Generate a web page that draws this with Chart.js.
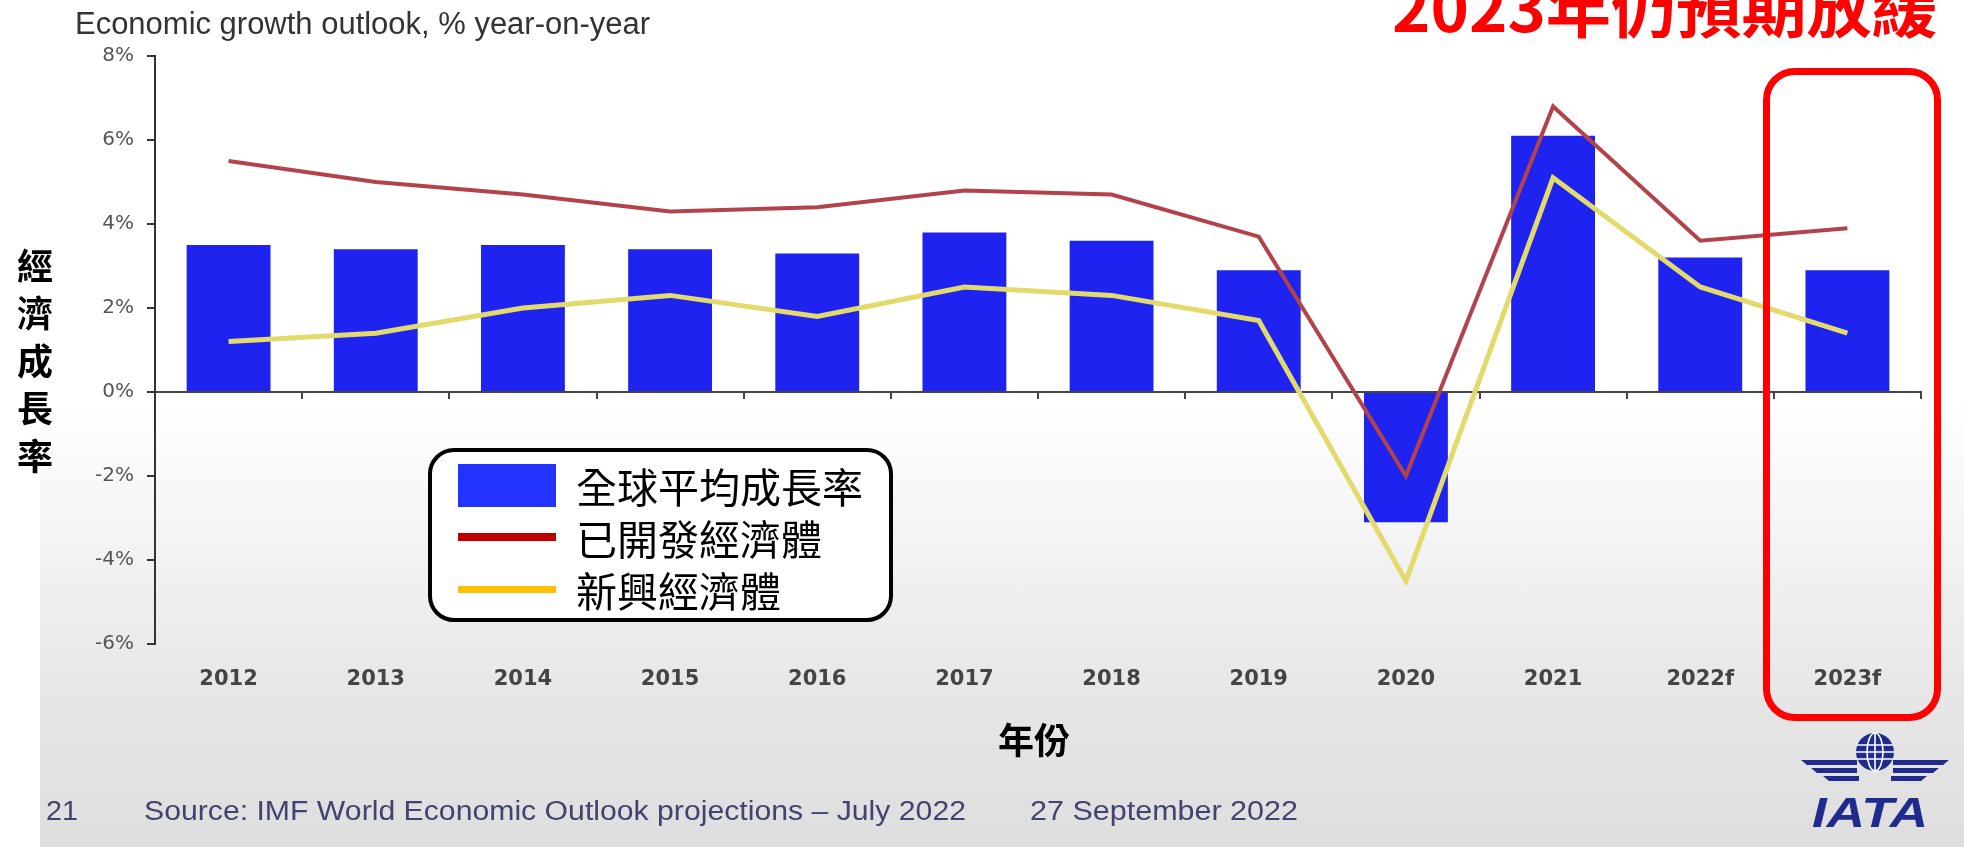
<!DOCTYPE html>
<html>
<head>
<meta charset="utf-8">
<script src="https://cdn.jsdelivr.net/npm/chart.js@4/dist/chart.umd.min.js"></script>
<style>
  html, body { margin: 0; padding: 0; }
  body { width: 1964px; height: 847px; overflow: hidden; position: relative; background: #fff; font-family: 'Liberation Sans', Arial, sans-serif; }
  #bg { position: absolute; left: 40px; top: 0; right: 0; bottom: 0;
        background: linear-gradient(to bottom, #ffffff 0px, #ffffff 400px, #f2f2f2 560px, #e6e6e6 700px, #dedede 847px); }
  #chart { position: absolute; left: 0; top: 0; }
  .txt { position: absolute; white-space: nowrap; line-height: 1; transform-origin: left top; }
  #title { left: 75px; top: 8px; font-size: 31px; color: #333; }
  #note { left: 1392px; top: -42px; font: 700 64px 'Noto Sans CJK TC'; color: #ff0000; }
  #pageNo, #source, #date { top: 798px; font-size: 27px; color: #43436f; }
  #pageNo { left: 46px; }
  #source { left: 144px; }
  #date { left: 1030px; }
  #iata { left: 1812px; top: 789px; font: italic 700 42px 'Liberation Sans'; color: #1f2b8e; }
  #ytitle { position: absolute; left: 17px; top: 241px; width: 36px; font: 700 36px 'Noto Sans CJK TC'; line-height: 47.4px; text-align: center; color: #000; }
  #xtitle { position: absolute; left: 1034px; top: 720px; transform: translateX(-50%); font: 700 36px 'Noto Sans CJK TC'; line-height: 1; color: #000; white-space: nowrap; }
  #legend { position: absolute; left: 428px; top: 448px; width: 465px; height: 174px; box-sizing: border-box;
            border: 4px solid #000; border-radius: 26px; background: #fff; padding-top: 7px; }
  .lg-row { display: flex; align-items: center; height: 52px; padding-left: 26px; }
  .lg-swatch { display: inline-block; width: 98px; margin-right: 20px; }
  .lg-text { font: 400 41px 'Noto Sans CJK TC'; line-height: 52px; color: #000; white-space: nowrap; }
  #highlight { position: absolute; left: 1763px; top: 68px; width: 178px; height: 653px; box-sizing: border-box;
               border: 7px solid #ff0000; border-radius: 32px; }
  #logo { position: absolute; left: 1795px; top: 725px; }
</style>
</head>
<body>
<div id="bg"></div>
<canvas id="chart" width="1964" height="847"></canvas>
<div class="txt" id="title">Economic growth outlook, % year-on-year</div>
<div id="ytitle"></div>
<div id="xtitle">年份</div>
<div id="legend"></div>
<div id="highlight"></div>
<div class="txt" id="note">2023年仍預期放緩</div>
<div class="txt" id="pageNo">21</div>
<div class="txt" id="source">Source: IMF World Economic Outlook projections – July 2022</div>
<div class="txt" id="date">27 September 2022</div>
<svg id="logo" width="160" height="65" viewBox="0 0 160 65">
  <g fill="#1f2b8e">
    <polygon points="6,35 62,35 62,40 12,40"/>
    <polygon points="16,43 62,43 62,48 22,48"/>
    <polygon points="28,51 64,51 64,56 34,56"/>
    <polygon points="154,35 98,35 98,40 148,40"/>
    <polygon points="144,43 98,43 98,48 138,48"/>
    <polygon points="132,51 96,51 96,56 126,56"/>
  </g>
  <circle cx="80" cy="27" r="19" fill="#1f2b8e"/>
  <g fill="none" stroke="#ffffff" stroke-width="1.6">
    <ellipse cx="80" cy="27" rx="8" ry="19"/>
    <line x1="80" y1="8" x2="80" y2="46"/>
    <line x1="62" y1="20" x2="98" y2="20"/>
    <line x1="61" y1="27" x2="99" y2="27"/>
    <line x1="62" y1="34" x2="98" y2="34"/>
  </g>
</svg>
<div class="txt" id="iata">IATA</div>

<script>
// 類別與數值
const categories = ['2012', '2013', '2014', '2015', '2016', '2017', '2018', '2019', '2020', '2021', '2022f', '2023f'];
const worldGrowth = [3.5, 3.4, 3.5, 3.4, 3.3, 3.8, 3.6, 2.9, -3.1, 6.1, 3.2, 2.9];
const developedGrowth = [5.5, 5.0, 4.7, 4.3, 4.4, 4.8, 4.7, 3.7, -2.0, 6.8, 3.6, 3.9];
const emergingGrowth = [1.2, 1.4, 2.0, 2.3, 1.8, 2.5, 2.3, 1.7, -4.5, 5.1, 2.5, 1.4];
const seriesNames = ['全球平均成長率', '已開發經濟體', '新興經濟體'];
const yTicks = [-6, -4, -2, 0, 2, 4, 6, 8];

const chart = new Chart(document.getElementById('chart').getContext('2d'), {
  type: 'bar',
  data: {
    labels: categories,
    datasets: [
      { type: 'bar', label: seriesNames[0], data: worldGrowth, backgroundColor: '#1e23ef',
        barPercentage: 0.57, categoryPercentage: 1, order: 2 },
      { type: 'line', label: seriesNames[1], data: developedGrowth, borderColor: '#b3434b',
        borderWidth: 4, pointRadius: 0, tension: 0, order: 1 },
      { type: 'line', label: seriesNames[2], data: emergingGrowth, borderColor: '#e2db6c',
        borderWidth: 5, pointRadius: 0, tension: 0, order: 1 }
    ]
  },
  options: {
    responsive: false,
    animation: false,
    devicePixelRatio: 1,
    layout: { padding: { left: 0, top: 56, right: 43, bottom: 143 } },
    plugins: { legend: { display: false }, tooltip: { enabled: false } },
    scales: {
      x: {
        position: 'bottom',
        offset: true,
        grid: { display: false, drawTicks: false },
        border: { display: false },
        ticks: { color: '#444', font: { family: 'DejaVu Sans', size: 21, weight: 'bold' },
                 padding: 23, maxRotation: 0, autoSkip: false },
        afterFit: s => { s.height = 60; }
      },
      // 0% 基準線與分隔刻度
      zero: {
        axis: 'x',
        type: 'category',
        position: { y: 0 },
        offset: true,
        grid: { offset: true, drawOnChartArea: false, drawTicks: true, tickLength: 6, color: '#444', lineWidth: 2 },
        border: { color: '#444', width: 2 },
        ticks: { display: false }
      },
      y: {
        min: yTicks[0],
        max: yTicks[yTicks.length - 1],
        afterBuildTicks: s => { s.ticks = yTicks.map(v => ({ value: v })); },
        grid: { drawOnChartArea: false, drawTicks: true, tickLength: 8, color: '#333', lineWidth: 2 },
        border: { color: '#333', width: 2 },
        ticks: { color: '#555', font: { family: 'DejaVu Sans', size: 20 }, padding: 13,
                 callback: v => v + '%' },
        afterFit: s => { s.width = 155; }
      }
    }
  }
});

// 圖例
const swatches = [
  { color: '#2233ff', height: 43 },
  { color: '#c00000', height: 8 },
  { color: '#ffc000', height: 7 }
];
const legendEl = document.getElementById('legend');
chart.data.datasets.forEach((ds, i) => {
  const row = document.createElement('div');
  row.className = 'lg-row';
  const sw = document.createElement('span');
  sw.className = 'lg-swatch';
  sw.style.background = swatches[i].color;
  sw.style.height = swatches[i].height + 'px';
  const tx = document.createElement('span');
  tx.className = 'lg-text';
  tx.textContent = ds.label;
  row.appendChild(sw);
  row.appendChild(tx);
  legendEl.appendChild(row);
});

// 直式 y 軸標題
const yTitleEl = document.getElementById('ytitle');
'經濟成長率'.split('').forEach(ch => {
  const d = document.createElement('div');
  d.textContent = ch;
  yTitleEl.appendChild(d);
});

// 文字寬度對齊原圖
function fitWidth(id, target) {
  const el = document.getElementById(id);
  el.style.transform = 'none';
  const w = el.getBoundingClientRect().width;
  el.style.transform = 'scaleX(' + (target / w) + ')';
}
function fitAll() {
  fitWidth('title', 575);
  fitWidth('note', 545);
  fitWidth('pageNo', 32);
  fitWidth('source', 822);
  fitWidth('date', 268);
  fitWidth('iata', 116);
}
fitAll();
if (document.fonts && document.fonts.ready) document.fonts.ready.then(fitAll);
</script>
</body>
</html>
